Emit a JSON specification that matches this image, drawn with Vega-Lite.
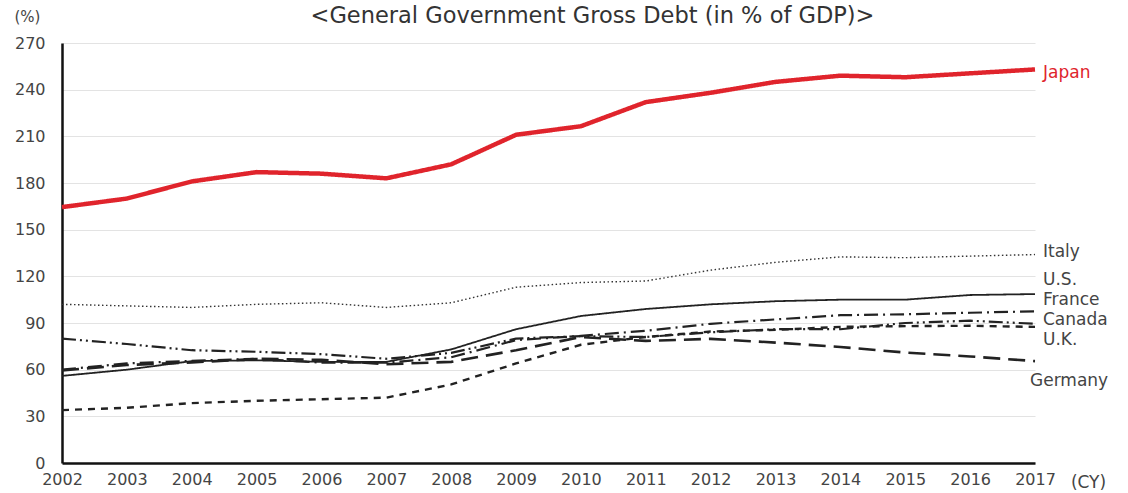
{
  "$schema": "https://vega.github.io/schema/vega-lite/v6.json",
  "width": 973,
  "height": 420,
  "autosize": "none",
  "padding": {"left": 62, "top": 43, "right": 93, "bottom": 30},
  "background": "white",
  "config": {
    "font": "DejaVu Sans",
    "view": {"stroke": null}
  },
  "title": {
    "text": "<General Government Gross Debt (in % of GDP)>",
    "anchor": "middle",
    "dx": 44,
    "dy": 38,
    "offset": 20,
    "fontSize": 22.5,
    "fontWeight": "normal",
    "font": "DejaVu Sans",
    "color": "#333"
  },
  "datasets": {
    "series": [
      {"country": "Japan", "year": 2002, "debt": 164.5}, {"country": "Japan", "year": 2003, "debt": 170}, {"country": "Japan", "year": 2004, "debt": 181}, {"country": "Japan", "year": 2005, "debt": 187}, {"country": "Japan", "year": 2006, "debt": 186}, {"country": "Japan", "year": 2007, "debt": 183}, {"country": "Japan", "year": 2008, "debt": 192}, {"country": "Japan", "year": 2009, "debt": 211}, {"country": "Japan", "year": 2010, "debt": 216.5}, {"country": "Japan", "year": 2011, "debt": 232}, {"country": "Japan", "year": 2012, "debt": 238}, {"country": "Japan", "year": 2013, "debt": 245}, {"country": "Japan", "year": 2014, "debt": 249}, {"country": "Japan", "year": 2015, "debt": 248}, {"country": "Japan", "year": 2016, "debt": 250.5}, {"country": "Japan", "year": 2017, "debt": 253},
      {"country": "Italy", "year": 2002, "debt": 102}, {"country": "Italy", "year": 2003, "debt": 101}, {"country": "Italy", "year": 2004, "debt": 100}, {"country": "Italy", "year": 2005, "debt": 102}, {"country": "Italy", "year": 2006, "debt": 103}, {"country": "Italy", "year": 2007, "debt": 100}, {"country": "Italy", "year": 2008, "debt": 103}, {"country": "Italy", "year": 2009, "debt": 113}, {"country": "Italy", "year": 2010, "debt": 116}, {"country": "Italy", "year": 2011, "debt": 117}, {"country": "Italy", "year": 2012, "debt": 124}, {"country": "Italy", "year": 2013, "debt": 129}, {"country": "Italy", "year": 2014, "debt": 132.5}, {"country": "Italy", "year": 2015, "debt": 132}, {"country": "Italy", "year": 2016, "debt": 133}, {"country": "Italy", "year": 2017, "debt": 134},
      {"country": "U.S.", "year": 2002, "debt": 56}, {"country": "U.S.", "year": 2003, "debt": 60}, {"country": "U.S.", "year": 2004, "debt": 65.5}, {"country": "U.S.", "year": 2005, "debt": 66}, {"country": "U.S.", "year": 2006, "debt": 65}, {"country": "U.S.", "year": 2007, "debt": 65}, {"country": "U.S.", "year": 2008, "debt": 73}, {"country": "U.S.", "year": 2009, "debt": 86}, {"country": "U.S.", "year": 2010, "debt": 94.5}, {"country": "U.S.", "year": 2011, "debt": 99}, {"country": "U.S.", "year": 2012, "debt": 102}, {"country": "U.S.", "year": 2013, "debt": 104}, {"country": "U.S.", "year": 2014, "debt": 105}, {"country": "U.S.", "year": 2015, "debt": 105}, {"country": "U.S.", "year": 2016, "debt": 108}, {"country": "U.S.", "year": 2017, "debt": 108.6},
      {"country": "France", "year": 2002, "debt": 60}, {"country": "France", "year": 2003, "debt": 64}, {"country": "France", "year": 2004, "debt": 65.7}, {"country": "France", "year": 2005, "debt": 67}, {"country": "France", "year": 2006, "debt": 64.5}, {"country": "France", "year": 2007, "debt": 64.5}, {"country": "France", "year": 2008, "debt": 68}, {"country": "France", "year": 2009, "debt": 79}, {"country": "France", "year": 2010, "debt": 81.7}, {"country": "France", "year": 2011, "debt": 85}, {"country": "France", "year": 2012, "debt": 89.5}, {"country": "France", "year": 2013, "debt": 92.3}, {"country": "France", "year": 2014, "debt": 95}, {"country": "France", "year": 2015, "debt": 95.6}, {"country": "France", "year": 2016, "debt": 96.6}, {"country": "France", "year": 2017, "debt": 97.5},
      {"country": "Canada", "year": 2002, "debt": 80}, {"country": "Canada", "year": 2003, "debt": 76.5}, {"country": "Canada", "year": 2004, "debt": 72.5}, {"country": "Canada", "year": 2005, "debt": 71.5}, {"country": "Canada", "year": 2006, "debt": 70}, {"country": "Canada", "year": 2007, "debt": 67}, {"country": "Canada", "year": 2008, "debt": 70.8}, {"country": "Canada", "year": 2009, "debt": 80}, {"country": "Canada", "year": 2010, "debt": 81.5}, {"country": "Canada", "year": 2011, "debt": 81}, {"country": "Canada", "year": 2012, "debt": 84}, {"country": "Canada", "year": 2013, "debt": 86}, {"country": "Canada", "year": 2014, "debt": 86}, {"country": "Canada", "year": 2015, "debt": 90}, {"country": "Canada", "year": 2016, "debt": 91.5}, {"country": "Canada", "year": 2017, "debt": 89.5},
      {"country": "U.K.", "year": 2002, "debt": 34}, {"country": "U.K.", "year": 2003, "debt": 35.5}, {"country": "U.K.", "year": 2004, "debt": 38.5}, {"country": "U.K.", "year": 2005, "debt": 40}, {"country": "U.K.", "year": 2006, "debt": 41}, {"country": "U.K.", "year": 2007, "debt": 42}, {"country": "U.K.", "year": 2008, "debt": 50.5}, {"country": "U.K.", "year": 2009, "debt": 64}, {"country": "U.K.", "year": 2010, "debt": 76}, {"country": "U.K.", "year": 2011, "debt": 81}, {"country": "U.K.", "year": 2012, "debt": 84.5}, {"country": "U.K.", "year": 2013, "debt": 85.6}, {"country": "U.K.", "year": 2014, "debt": 87.5}, {"country": "U.K.", "year": 2015, "debt": 88}, {"country": "U.K.", "year": 2016, "debt": 88.2}, {"country": "U.K.", "year": 2017, "debt": 87.5},
      {"country": "Germany", "year": 2002, "debt": 59.5}, {"country": "Germany", "year": 2003, "debt": 63}, {"country": "Germany", "year": 2004, "debt": 64.6}, {"country": "Germany", "year": 2005, "debt": 67}, {"country": "Germany", "year": 2006, "debt": 66.3}, {"country": "Germany", "year": 2007, "debt": 63.5}, {"country": "Germany", "year": 2008, "debt": 65}, {"country": "Germany", "year": 2009, "debt": 72.5}, {"country": "Germany", "year": 2010, "debt": 81}, {"country": "Germany", "year": 2011, "debt": 78.5}, {"country": "Germany", "year": 2012, "debt": 79.8}, {"country": "Germany", "year": 2013, "debt": 77.4}, {"country": "Germany", "year": 2014, "debt": 74.6}, {"country": "Germany", "year": 2015, "debt": 71}, {"country": "Germany", "year": 2016, "debt": 68.5}, {"country": "Germany", "year": 2017, "debt": 65.5}
    ],
    "labels": [
      {"country": "Japan", "year": 2017, "labelValue": 250.5},
      {"country": "Italy", "year": 2017, "labelValue": 135.5},
      {"country": "U.S.", "year": 2017, "labelValue": 117.5},
      {"country": "France", "year": 2017, "labelValue": 104.5},
      {"country": "Canada", "year": 2017, "labelValue": 92},
      {"country": "U.K.", "year": 2017, "labelValue": 79},
      {"country": "Germany", "year": 2017, "labelValue": 53}
    ]
  },
  "layer": [
    {
      "data": {"name": "series"},
      "mark": {"type": "line", "strokeCap": "butt", "strokeJoin": "round"},
      "encoding": {
        "x": {
          "field": "year", "type": "quantitative",
          "scale": {"domain": [2002, 2017], "nice": false, "zero": false},
          "axis": {
            "values": [2002, 2003, 2004, 2005, 2006, 2007, 2008, 2009, 2010, 2011, 2012, 2013, 2014, 2015, 2016, 2017],
            "format": "d", "grid": false, "ticks": false,
            "domainColor": "#111", "domainWidth": 2.5,
            "labelFont": "DejaVu Sans", "labelFontSize": 16, "labelColor": "#444", "labelPadding": 8,
            "labelFlush": false,
            "title": "(CY)", "titleFont": "DejaVu Sans", "titleFontSize": 17, "titleFontWeight": "normal", "titleColor": "#444",
            "titleX": 1026, "titleY": 19, "titleBaseline": "middle", "titleAlign": "center"
          }
        },
        "y": {
          "field": "debt", "type": "quantitative",
          "scale": {"domain": [0, 270], "nice": false},
          "axis": {
            "values": [0, 30, 60, 90, 120, 150, 180, 210, 240, 270],
            "grid": true, "gridColor": "#e3e3e3", "gridWidth": 1,
            "ticks": false,
            "domainColor": "#111", "domainWidth": 2.5,
            "labelFont": "DejaVu Sans", "labelFontSize": 16, "labelColor": "#444", "labelPadding": 17,
            "title": "(%)", "titleAngle": 0, "titleFont": "DejaVu Sans", "titleFontSize": 15, "titleFontWeight": "normal", "titleColor": "#444",
            "titleX": -35, "titleY": -27, "titleAlign": "center", "titleBaseline": "middle"
          }
        },
        "color": {
          "field": "country", "type": "nominal", "legend": null,
          "scale": {"domain": ["Japan", "Italy", "U.S.", "France", "Canada", "U.K.", "Germany"],
                    "range": ["#e0242c", "#333333", "#222222", "#222222", "#222222", "#222222", "#222222"]}
        },
        "strokeDash": {
          "field": "country", "type": "nominal", "legend": null,
          "scale": {"type": "ordinal", "domain": ["Japan", "Italy", "U.S.", "France", "Canada", "U.K.", "Germany"],
                    "range": [[1, 0], [1.5, 2.5], [1, 0], [14, 5, 2, 5], [14, 4, 2, 4, 2, 4], [7, 6], [17, 8]]}
        },
        "strokeWidth": {
          "field": "country", "type": "nominal", "legend": null,
          "scale": {"type": "ordinal", "domain": ["Japan", "Italy", "U.S.", "France", "Canada", "U.K.", "Germany"],
                    "range": [4.5, 1.4, 1.8, 2.2, 2.2, 2.4, 2.6]}
        }
      }
    },
    {
      "data": {"name": "labels"},
      "transform": [{"filter": "datum.country !== 'Germany'"}],
      "mark": {"type": "text", "align": "left", "baseline": "middle", "dx": 8, "fontSize": 17, "font": "DejaVu Sans"},
      "encoding": {
        "x": {"field": "year", "type": "quantitative"},
        "y": {"field": "labelValue", "type": "quantitative"},
        "text": {"field": "country"},
        "color": {
          "condition": {"test": "datum.country === 'Japan'", "value": "#e0242c"},
          "value": "#444444"
        }
      }
    },
    {
      "data": {"name": "labels"},
      "transform": [{"filter": "datum.country === 'Germany'"}],
      "mark": {"type": "text", "align": "left", "baseline": "middle", "dx": -5, "fontSize": 17, "font": "DejaVu Sans", "color": "#444444"},
      "encoding": {
        "x": {"field": "year", "type": "quantitative"},
        "y": {"field": "labelValue", "type": "quantitative"},
        "text": {"field": "country"}
      }
    }
  ]
}
